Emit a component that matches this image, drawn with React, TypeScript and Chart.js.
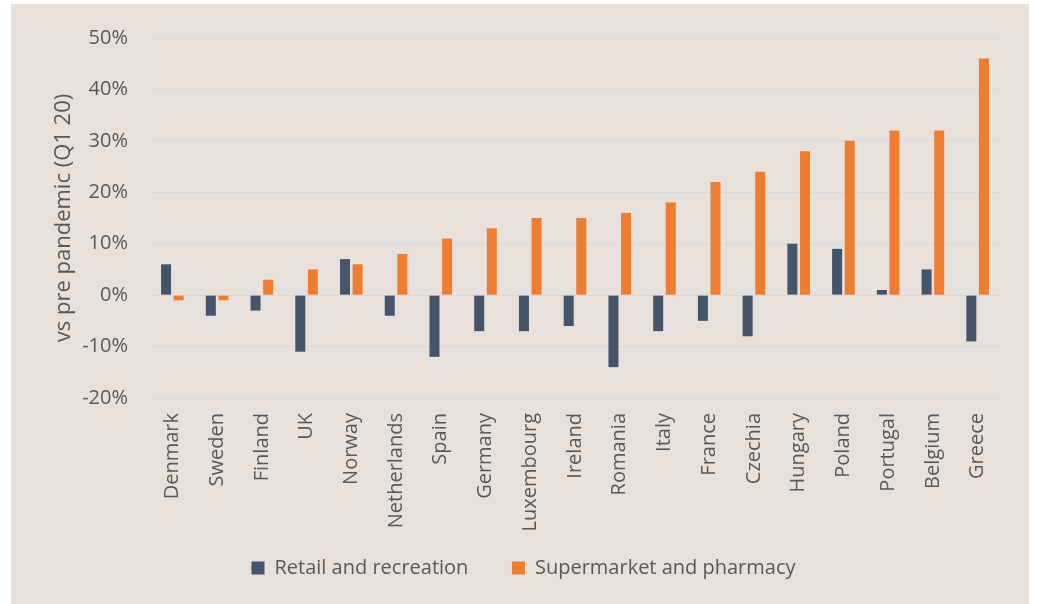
import React, { useEffect, useRef } from "react";
import { Chart, registerables } from "chart.js";

Chart.register(...registerables);

const categories = ["Denmark","Sweden","Finland","UK","Norway","Netherlands","Spain","Germany","Luxembourg","Ireland","Romania","Italy","France","Czechia","Hungary","Poland","Portugal","Belgium","Greece"];
const retailValues = [6,-4,-3,-11,7,-4,-12,-7,-7,-6,-14,-7,-5,-8,10,9,1,5,-9];
const supermarketValues = [-1,-1,3,5,6,8,11,13,15,15,16,18,22,24,28,30,32,32,46];
const yTicks = [-20,-10,0,10,20,30,40,50];

const FONT = "'Open Sans', 'DejaVu Sans', sans-serif";
const TEXT = "#595959";

export default function App() {
  const ref = useRef<HTMLCanvasElement | null>(null);
  useEffect(() => {
    if (!ref.current) return;
    const chart = new Chart(ref.current, {
      type: "bar",
      data: {
        labels: categories,
        datasets: [
          { label: "Retail and recreation", data: retailValues, backgroundColor: "#44546a", categoryPercentage: 0.563, barPercentage: 0.794 },
          { label: "Supermarket and pharmacy", data: supermarketValues, backgroundColor: "#ed7d31", categoryPercentage: 0.563, barPercentage: 0.794 },
        ],
      },
      options: {
        responsive: false,
        animation: false,
        layout: { padding: { left: 36, right: 29, top: 32, bottom: 16 } },
        plugins: {
          legend: {
            position: "bottom",
            labels: {
              boxWidth: 13,
              boxHeight: 13,
              padding: 28,
              color: TEXT,
              font: { family: FONT, size: 20 },
              generateLabels: (c: any) => {
                const items = Chart.defaults.plugins.legend.labels.generateLabels(c);
                return items.map((it: any, i: number) => ({
                  ...it,
                  lineWidth: 0,
                  text: i < items.length - 1 ? it.text + "   " : it.text,
                }));
              },
            },
          },
          tooltip: { enabled: false },
        },
        scales: {
          x: {
            grid: { display: false, drawTicks: false },
            border: { display: false },
            ticks: {
              color: TEXT,
              font: { family: FONT, size: 20 },
              minRotation: 90,
              maxRotation: 90,
              padding: 15,
              autoSkip: false,
            },
            afterFit: (scale: any) => { scale.height = 132; },
          },
          y: {
            min: -20,
            max: 50,
            afterBuildTicks: (scale: any) => { scale.ticks = yTicks.map((v) => ({ value: v })); },
            grid: { color: "#d9d9d9", lineWidth: 1, drawTicks: false },
            border: { display: false },
            ticks: {
              color: TEXT,
              font: { family: FONT, size: 20 },
              padding: 22,
              callback: (v: any) => v + "%",
            },
            title: {
              display: true,
              text: "vs pre pandemic (Q1 20)",
              color: TEXT,
              font: { family: FONT, size: 22 },
              padding: { top: 4, bottom: 0 },
            },
            afterFit: (scale: any) => { scale.width = 103; },
          },
        },
      },
    });
    return () => chart.destroy();
  }, []);

  return (
    <div style={{ position: "fixed", left: 11, top: 4, width: 1018, height: 600, background: "#e7e0db" }}>
      <canvas ref={ref} width={1018} height={600} style={{ display: "block", width: 1018, height: 600 }} />
    </div>
  );
}
